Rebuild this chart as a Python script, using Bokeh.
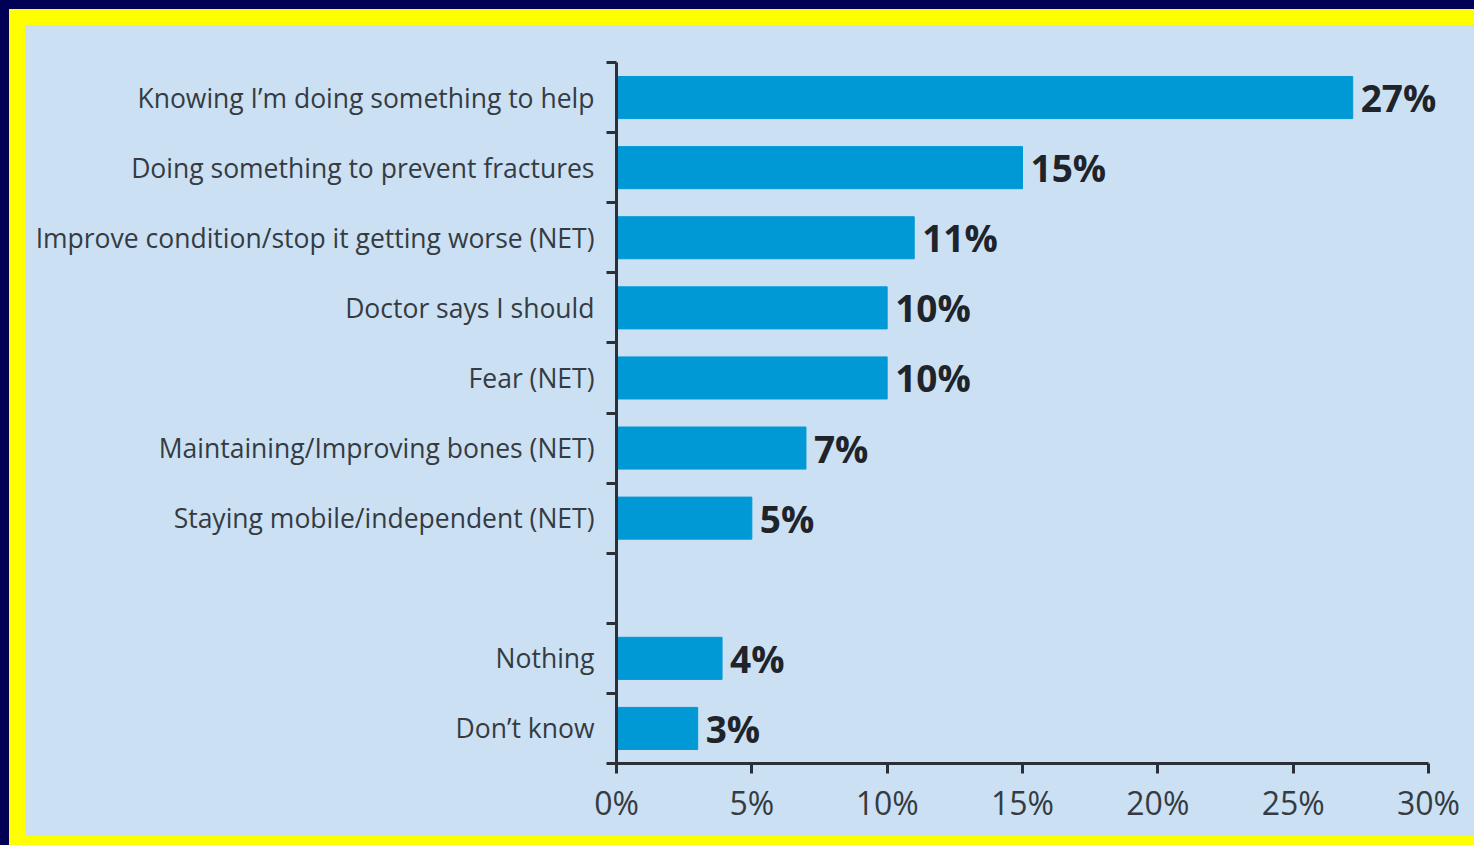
from bokeh.plotting import figure
from bokeh.models import Range1d, FixedTicker, PrintfTickFormatter, ColumnDataSource, LabelSet
from bokeh.core.properties import value
from bokeh.layouts import column
from bokeh.embed import file_html
from bokeh.resources import INLINE

categories = [
    "Knowing I\u2019m doing something to help",
    "Doing something to prevent fractures",
    "Improve condition/stop it getting worse (NET)",
    "Doctor says I should",
    "Fear (NET)",
    "Maintaining/Improving bones (NET)",
    "Staying mobile/independent (NET)",
    "",
    "Nothing",
    "Don\u2019t know",
]
values = [27.2, 15, 11, 10, 10, 7, 5, None, 3.9, 3]
x_ticks = [0, 5, 10, 15, 20, 25, 30]

BG = "#CBE1F3"
BAR = "#0099D6"
AXIS = "#2B3038"
TXT = "#353B42"
NAVY = "#000055"
YEL = "#FFFF00"

n = len(categories)
ys, xs, labels, names = [], [], [], []
for i, (c, v) in enumerate(zip(categories, values)):
    if v is None:
        continue
    ys.append(i + 0.5)
    xs.append(v)
    labels.append(f"{round(v)}%")
    names.append(c)
src = ColumnDataSource(dict(y=ys, x=xs, label=labels, name=names))

# plot area: frame runs to the right canvas edge, axis drawn only 0..30
W, H = 1449, 811
LEFT, TOP, BOTTOM = 591, 37, 73
px_per_pct = 812 / 30
x_end = (W - LEFT) / px_per_pct

p = figure(width=W, height=H, output_backend="svg", toolbar_location=None,
           x_range=Range1d(0, x_end), y_range=Range1d(n, 0),
           min_border_left=LEFT, min_border_right=0, min_border_top=TOP, min_border_bottom=BOTTOM)
p.background_fill_color = None
p.border_fill_color = None
p.outline_line_color = None
p.grid.visible = False
p.styles = {"background-color": BG}

p.hbar(y="y", right="x", left=0, height=0.6, source=src, color=BAR)
p.add_layout(LabelSet(x="x", y="y", text="label", source=src, x_offset=8, y_offset=0,
                      text_font=value("Open Sans"), text_font_style="bold",
                      text_font_size=value("37px"),
                      text_color="#1F242A", text_baseline="middle", text_align="left"))

# x axis
xa = p.xaxis[0]
xa.bounds = (0, 30)
xa.ticker = FixedTicker(ticks=x_ticks)
xa.formatter = PrintfTickFormatter(format="%d%%")
xa.axis_line_width = 3
xa.axis_line_color = AXIS
xa.major_tick_line_width = 3
xa.major_tick_line_color = AXIS
xa.major_tick_out = 10
xa.major_tick_in = 0
xa.minor_tick_line_color = None
xa.major_label_text_font = "Open Sans"
xa.major_label_text_font_size = "32px"
xa.major_label_text_color = TXT
xa.major_label_standoff = 7

# y axis
ya = p.yaxis[0]
ya.ticker = FixedTicker(ticks=ys, minor_ticks=list(range(0, n + 1)))
ya.major_label_overrides = {y: nm for y, nm in zip(ys, names)}
ya.axis_line_width = 3
ya.axis_line_color = AXIS
ya.major_tick_line_color = None
ya.major_tick_out = 0
ya.major_tick_in = 0
ya.minor_tick_line_width = 3
ya.minor_tick_line_color = AXIS
ya.minor_tick_out = 10
ya.minor_tick_in = 0
ya.major_label_text_font = "Open Sans"
ya.major_label_text_font_size = "26.5px"
ya.major_label_text_color = TXT
ya.major_label_standoff = 12

layout = column(p, styles={
    "background-color": YEL,
    "border-left": f"9px solid {NAVY}",
    "border-top": f"9px solid {NAVY}",
    "padding": "16px 0px 9px 16px",
})

open("out.html", "w").write(file_html(layout, INLINE))
